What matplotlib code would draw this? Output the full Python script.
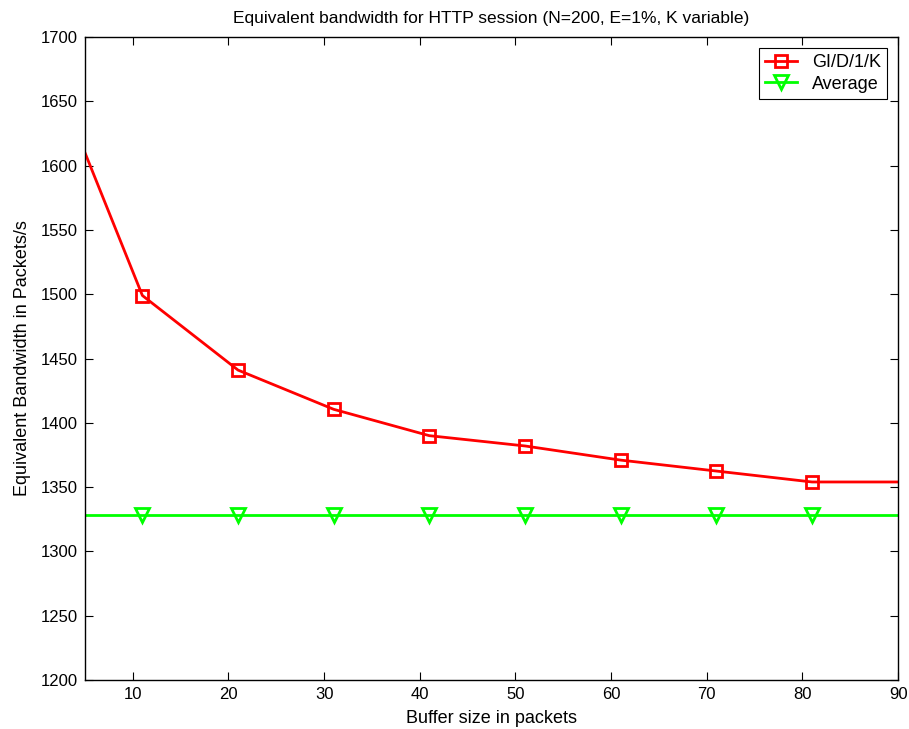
import matplotlib.pyplot as plt

plt.rcParams['font.family'] = ['Liberation Sans', 'DejaVu Sans']

# Datos
buffer_size = [1, 11, 21, 31, 41, 51, 61, 71, 81, 91]
gi_d_1_k = [1684, 1499, 1441, 1410.5, 1390, 1382, 1371, 1362.5, 1354, 1354]
average = [1328, 1328, 1328, 1328, 1328, 1328, 1328, 1328, 1328, 1328]

fig = plt.figure(figsize=(9.09, 7.29), dpi=100)
ax = fig.add_axes([0.0935, 0.0672, 0.8945, 0.882])

ax.plot(buffer_size, gi_d_1_k, color='#ff0000', lw=2, marker='s', markersize=9,
        markerfacecolor='none', markeredgewidth=2, label='GI/D/1/K')
ax.plot(buffer_size, average, color='#00ff00', lw=2, marker='v', markersize=10,
        markerfacecolor='none', markeredgewidth=2, label='Average')

ax.set_xlim(5, 90)
ax.set_ylim(1200, 1700)
ax.set_xticks(range(10, 91, 10))
ax.set_yticks(range(1200, 1701, 50))
ax.tick_params(direction='in', top=True, right=True, labelsize=12, length=6, pad=5)
for s in ax.spines.values():
    s.set_linewidth(1.0)

ax.set_xlabel('Buffer size in packets', fontsize=13, labelpad=6)
ax.set_ylabel('Equivalent Bandwidth in Packets/s', fontsize=13, labelpad=7)
ax.set_title('Equivalent bandwidth for HTTP session (N=200, E=1%, K variable)', fontsize=12.5, pad=10)

leg = ax.legend(loc='upper right', fontsize=13, fancybox=False, framealpha=1,
                edgecolor='black', handlelength=1.8, borderpad=0.35, labelspacing=0.25,
                borderaxespad=0.6)
leg.get_frame().set_linewidth(0.8)

fig.savefig('out.png', dpi=100)
